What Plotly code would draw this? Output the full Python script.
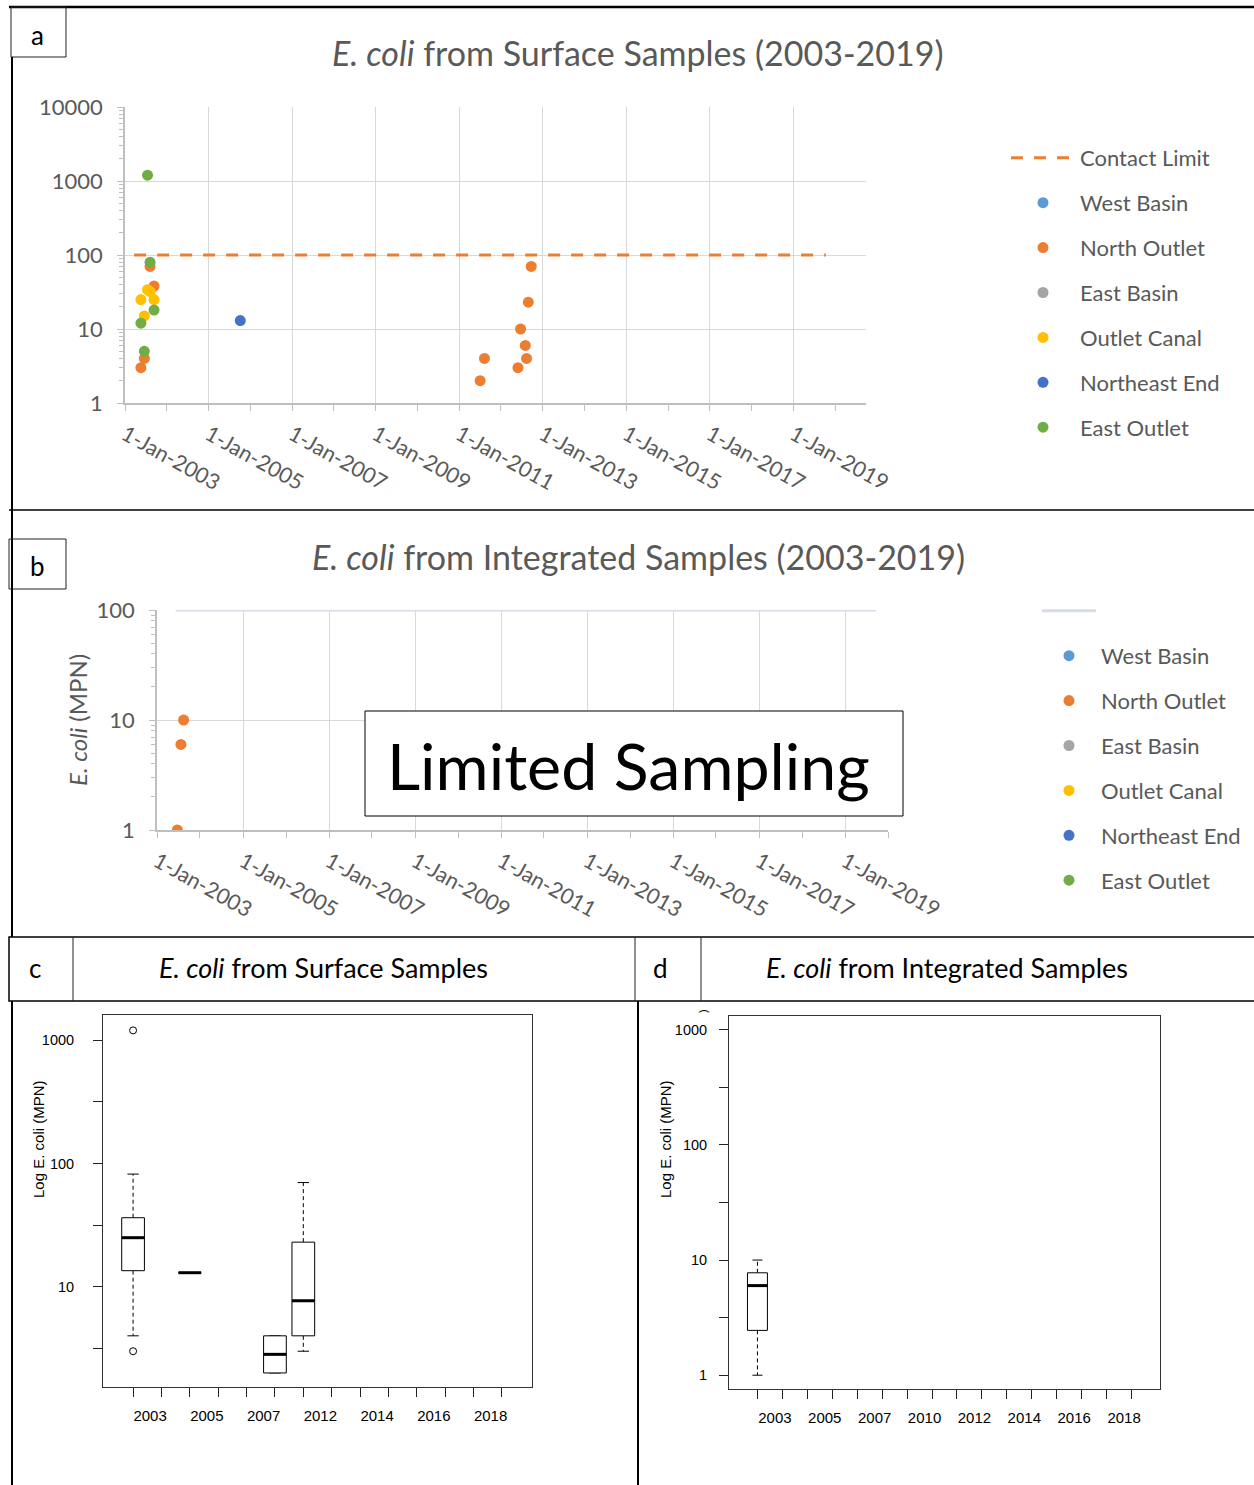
import numpy as np
import plotly.graph_objects as go

W, H = 1254, 1485

# ---------------- data ----------------
site_names = ['West Basin', 'North Outlet', 'East Basin', 'Outlet Canal', 'Northeast End', 'East Outlet']
site_colors = ['#5B9BD5', '#ED7D31', '#A5A5A5', '#FFC000', '#4472C4', '#70AD47']

contact_limit_value = 100
contact_limit_dates_a = ['2003-03-22', '2019-10-12']
contact_limit_dates_b = ['2003-06-08', '2019-09-24']

# Panel a: surface samples (sample date, E. coli MPN)
west_basin_a_dates, west_basin_a_vals = [], []
north_outlet_a_dates = ['2003-05-20', '2003-06-19', '2003-08-08', '2003-09-12', '2011-07-03', '2011-08-10',
                        '2012-05-29', '2012-06-21', '2012-08-01', '2012-08-12', '2012-08-27', '2012-09-22']
north_outlet_a_vals = [3, 4, 70, 38, 2, 4, 3, 10, 6, 4, 23, 70]
east_basin_a_dates, east_basin_a_vals = [], []
outlet_canal_a_dates = ['2003-05-20', '2003-06-19', '2003-07-17', '2003-08-08', '2003-09-12']
outlet_canal_a_vals = [25, 15, 34, 32, 25]
northeast_end_a_dates = ['2005-10-05']
northeast_end_a_vals = [13]
east_outlet_a_dates = ['2003-05-20', '2003-06-19', '2003-07-17', '2003-08-08', '2003-09-12']
east_outlet_a_vals = [12, 5, 1200, 80, 18]

# Panel b: integrated samples
west_basin_b_dates, west_basin_b_vals = [], []
north_outlet_b_dates = ['2003-06-23', '2003-07-23', '2003-08-15']
north_outlet_b_vals = [1, 6, 10]
east_basin_b_dates, east_basin_b_vals = [], []
outlet_canal_b_dates, outlet_canal_b_vals = [], []
northeast_end_b_dates, northeast_end_b_vals = [], []
east_outlet_b_dates, east_outlet_b_vals = [], []

# Panel c: boxplot statistics (surface)
c_years = [2003, 2004, 2005, 2006, 2007, 2011, 2012, 2013, 2014, 2015, 2016, 2017, 2018, 2019]
c_tick_labels = ['2003', '2005', '2007', '2012', '2014', '2016', '2018']
c_box_years = [2003, 2005, 2011, 2012]
c_lower = [4.0, 13, 2.0, 3.0]
c_q1 = [13.5, 13, 2.0, 4.0]
c_median = [25, 13, 2.83, 7.7]
c_q3 = [36.3, 13, 4.0, 23]
c_upper = [82, 13, 4.0, 70]
c_out_years = [2003, 2003]
c_out_vals = [1200, 3]

# Panel d: boxplot statistics (integrated)
d_years = [2003, 2004, 2005, 2006, 2007, 2009, 2010, 2011, 2012, 2013, 2014, 2015, 2016, 2017, 2018, 2019]
d_tick_labels = ['2003', '2005', '2007', '2010', '2012', '2014', '2016', '2018']
d_box_years = [2003]
d_lower = [1]
d_q1 = [2.45]
d_median = [6]
d_q3 = [7.75]
d_upper = [10]
d_out_years, d_out_vals = [], []

# ---------------- helpers ----------------
def px(x):
    return x / W


def py(y):
    return 1 - y / H


GRAY = '#595959'
XL = 'Lato'
RF = 'Liberation Sans'
MS = 11

fig = go.Figure()

# ---------- panel a ----------
fig.add_trace(go.Scatter(x=contact_limit_dates_a, y=[contact_limit_value] * 2, mode='lines',
                         name='Contact Limit', legend='legend', legendgroup='a0',
                         line=dict(color='#ED7D31', width=3, dash='12px,11px'),
                         xaxis='x', yaxis='y'))
a_sets = [(west_basin_a_dates, west_basin_a_vals), (north_outlet_a_dates, north_outlet_a_vals),
          (east_basin_a_dates, east_basin_a_vals), (outlet_canal_a_dates, outlet_canal_a_vals),
          (northeast_end_a_dates, northeast_end_a_vals), (east_outlet_a_dates, east_outlet_a_vals)]
for i, (nm, col, (dx, vy)) in enumerate(zip(site_names, site_colors, a_sets)):
    fig.add_trace(go.Scatter(x=dx if dx else [None], y=vy if vy else [None], mode='markers', name=nm,
                             legend='legend', legendgroup='a%d' % (i + 1),
                             marker=dict(color=col, size=MS), xaxis='x', yaxis='y'))

# ---------- panel b ----------
fig.add_trace(go.Scatter(x=contact_limit_dates_b, y=[contact_limit_value] * 2, mode='lines',
                         name='', legend='legend2', legendgroup='b0',
                         line=dict(color='#D6DCE5', width=3), xaxis='x2', yaxis='y2'))
b_sets = [(west_basin_b_dates, west_basin_b_vals), (north_outlet_b_dates, north_outlet_b_vals),
          (east_basin_b_dates, east_basin_b_vals), (outlet_canal_b_dates, outlet_canal_b_vals),
          (northeast_end_b_dates, northeast_end_b_vals), (east_outlet_b_dates, east_outlet_b_vals)]
for i, (nm, col, (dx, vy)) in enumerate(zip(site_names, site_colors, b_sets)):
    fig.add_trace(go.Scatter(x=dx if dx else [None], y=vy if vy else [None], mode='markers', name=nm,
                             legend='legend2', legendgroup='b%d' % (i + 1),
                             marker=dict(color=col, size=MS), xaxis='x2', yaxis='y2'))


# ---------- boxplots (c, d) ----------
def add_boxes(years_all, box_years, lo, q1, med, q3, hi, out_years, out_vals, xa, ya):
    pos = [years_all.index(y) + 1 for y in box_years]
    hw, cw = 0.4, 0.2
    bx, by, mx, my, wx, wy, sx, sy = [], [], [], [], [], [], [], []
    for p, l, a, m, b, h in zip(pos, lo, q1, med, q3, hi):
        bx += [p - hw, p + hw, p + hw, p - hw, p - hw, None]
        by += [a, a, b, b, a, None]
        mx += [p - hw, p + hw, None]
        my += [m, m, None]
        wx += [p, p, None, p, p, None]
        wy += [b, h, None, a, l, None]
        sx += [p - cw, p + cw, None, p - cw, p + cw, None]
        sy += [h, h, None, l, l, None]
    common = dict(xaxis=xa, yaxis=ya, showlegend=False, hoverinfo='skip')
    fig.add_trace(go.Scatter(x=wx, y=wy, mode='lines', line=dict(color='black', width=1, dash='4px,3px'), **common))
    fig.add_trace(go.Scatter(x=sx, y=sy, mode='lines', line=dict(color='black', width=1), **common))
    fig.add_trace(go.Scatter(x=bx, y=by, mode='lines', fill='toself', fillcolor='white',
                             line=dict(color='black', width=1), **common))
    fig.add_trace(go.Scatter(x=mx, y=my, mode='lines', line=dict(color='black', width=3), **common))
    if out_years:
        fig.add_trace(go.Scatter(x=[years_all.index(y) + 1 for y in out_years], y=out_vals, mode='markers',
                                 marker=dict(symbol='circle-open', size=7, color='black', line=dict(width=1)),
                                 **common))


add_boxes(c_years, c_box_years, c_lower, c_q1, c_median, c_q3, c_upper, c_out_years, c_out_vals, 'x3', 'y3')
add_boxes(d_years, d_box_years, d_lower, d_q1, d_median, d_q3, d_upper, d_out_years, d_out_vals, 'x4', 'y4')
# label-only axes for the year labels (need a trace to be drawn)
fig.add_trace(go.Scatter(x=[None], y=[None], xaxis='x5', yaxis='y3', showlegend=False, hoverinfo='skip'))
fig.add_trace(go.Scatter(x=[None], y=[None], xaxis='x6', yaxis='y4', showlegend=False, hoverinfo='skip'))

# ---------------- axes ----------------
minor_a = [k * 10 ** d for d in range(0, 4) for k in range(2, 10)]
minor_b = [k * 10 ** d for d in range(0, 2) for k in range(2, 10)]


def excel_x(domain, anchor, rng):
    return dict(domain=domain, anchor=anchor, type='date', range=rng, tick0='2003-01-01', dtick='M24',
                tickformat='%-d-%b-%Y', tickangle=29, showgrid=True, gridcolor='#D9D9D9', gridwidth=1,
                showline=True, linecolor='#BFBFBF', linewidth=1.5, ticks='outside', ticklen=6,
                tickcolor='#BFBFBF', tickwidth=1,
                tickfont=dict(family=XL, size=21.5, color=GRAY),
                minor=dict(dtick='M12', tick0='2003-01-01', ticks='outside', ticklen=6,
                           tickcolor='#BFBFBF', showgrid=False),
                zeroline=False, automargin=False, ticklabelstandoff=3)


def excel_y(domain, anchor, rng, tv, mv):
    return dict(domain=domain, anchor=anchor, type='log', range=rng, tickvals=tv, tickformat='d',
                showgrid=True, gridcolor='#D9D9D9', gridwidth=1, showline=True, linecolor='#BFBFBF',
                linewidth=1.5, ticks='outside', ticklen=6, tickcolor='#BFBFBF',
                tickfont=dict(family=XL, size=22, color=GRAY),
                minor=dict(tickvals=mv, ticks='outside', ticklen=4, tickcolor='#BFBFBF', showgrid=False),
                zeroline=False, automargin=False, ticklabelstandoff=10)


def r_x(domain, anchor, n, rng):
    return dict(domain=domain, anchor=anchor, range=rng, tickvals=list(range(1, n + 1)),
                showticklabels=False, ticks='outside', ticklen=9, tickcolor='#222', showgrid=False,
                showline=True, mirror=True, linecolor='#333', linewidth=1, zeroline=False, automargin=False)


def r_y(domain, anchor, rng, tv, tt, standoff):
    return dict(domain=domain, anchor=anchor, type='log', range=rng, tickvals=tv, ticktext=tt,
                ticks='outside', ticklen=9, tickcolor='#222', showgrid=False, showline=True, mirror=True,
                linecolor='#333', linewidth=1, zeroline=False, automargin=False,
                tickfont=dict(family=RF, size=14.5, color='black'), ticklabelstandoff=standoff)


def r_lab(overlay, anchor, years_all, labels, off, rng):
    return dict(overlaying=overlay, anchor=anchor, range=rng,
                tickvals=[years_all.index(int(s)) + 1 + off for s in labels], ticktext=labels,
                ticks='', showline=False, showgrid=False, zeroline=False, automargin=False,
                tickfont=dict(family=RF, size=15, color='black'), ticklabelstandoff=18)


c_rng = [-0.06, len(c_years) + 1.06]
d_rng = [-0.14, len(d_years) + 1.14]
half = [10 ** (k / 2) for k in range(0, 7)]
half_txt = ['1' if k == 0 else ('' if k % 2 else str(int(round(10 ** (k / 2))))) for k in range(0, 7)]
c_tv, c_tt = half[1:], half_txt[1:]

fig.update_layout(
    width=W, height=H, autosize=False, margin=dict(l=0, r=0, t=0, b=0),
    template='none', paper_bgcolor='white', plot_bgcolor='rgba(0,0,0,0)', showlegend=True,
    xaxis=excel_x([px(125), px(866)], 'y', ['2003-01-01', '2020-09-27']),
    yaxis=excel_y([py(403), py(107)], 'x', [0, 4], [1, 10, 100, 1000, 10000], minor_a),
    xaxis2=excel_x([px(157), px(888)], 'y2', ['2003-01-01', '2020-01-01']),
    yaxis2=excel_y([py(830), py(610)], 'x2', [0, 2], [1, 10, 100], minor_b),
    xaxis3=r_x([px(103), px(532)], 'y3', len(c_years), c_rng),
    yaxis3=r_y([py(1387), py(1015)], 'x3', [0.187, 3.204], c_tv, c_tt, 16),
    xaxis5=r_lab('x3', 'y3', c_years, c_tick_labels, 0.6, c_rng),
    xaxis4=r_x([px(729), px(1160)], 'y4', len(d_years), d_rng),
    yaxis4=r_y([py(1389), py(1016)], 'x4', [-0.12, 3.12], half, half_txt, 9),
    xaxis6=r_lab('x4', 'y4', d_years, d_tick_labels, 0.7, d_rng),
    legend=dict(x=px(1006), y=py(157 - 20), xanchor='left', yanchor='top', itemwidth=64,
                tracegroupgap=13.3, font=dict(family=XL, size=22, color=GRAY), bgcolor='rgba(0,0,0,0)',
                traceorder='grouped'),
    legend2=dict(x=px(1037), y=py(611 - 21), xanchor='left', yanchor='top', itemwidth=54,
                 tracegroupgap=13.3, font=dict(family=XL, size=22, color=GRAY), bgcolor='rgba(0,0,0,0)',
                 traceorder='grouped'),
)

# ---------------- frames ----------------
shapes = []


def seg(x0, y0, x1, y1, w=1.5, c='black'):
    shapes.append(dict(type='line', xref='paper', yref='paper', x0=px(x0), y0=py(y0), x1=px(x1), y1=py(y1),
                       line=dict(color=c, width=w)))


def box(x0, y0, x1, y1, w=1, c='#222', fill='rgba(0,0,0,0)'):
    shapes.append(dict(type='rect', xref='paper', yref='paper', x0=px(x0), y0=py(y0), x1=px(x1), y1=py(y1),
                       line=dict(color=c, width=w), fillcolor=fill, layer='above'))


seg(9, 7, 1254, 7, 2.5)
box(11, 7, 66, 57)
seg(12, 57, 12, 937, 2)
seg(9, 510, 1254, 510, 1.5)
box(9, 539, 66, 589)
box(9, 937, 1256, 1001, 1.5, 'black')
seg(73, 937, 73, 1001, 1, '#222')
seg(635, 937, 635, 1001, 1, '#222')
seg(701, 937, 701, 1001, 1, '#222')
seg(12, 1001, 12, 1485, 2)
seg(638, 1001, 638, 1485, 2)
box(365, 711, 903, 816, 1, 'black', 'white')
fig.update_layout(shapes=shapes)

# ---------------- text ----------------
ann = []


def txt(x, y, s, size, color='black', family=XL, angle=0, **kw):
    ann.append(dict(xref='paper', yref='paper', x=px(x), y=py(y), text=s, showarrow=False,
                    xanchor='center', yanchor='middle', textangle=angle,
                    font=dict(family=family, size=size, color=color), **kw))


txt(37, 35, 'a', 26)
txt(37, 566, 'b', 26)
txt(35, 968, 'c', 26)
txt(660, 968, 'd', 26)
txt(638, 52, '<i>E. coli</i> from Surface Samples (2003-2019)', 34, GRAY)
txt(638, 556, '<i>E. coli</i> from Integrated Samples (2003-2019)', 34, GRAY)
txt(323, 967, '<i>E. coli</i> from Surface Samples', 27)
txt(947, 967, '<i>E. coli</i> from Integrated Samples', 27)
txt(77, 720, '<i>E. coli</i> (MPN)', 24, GRAY, angle=-90)
txt(38, 1139, 'Log E. coli (MPN)', 15, 'black', RF, angle=-90)
txt(665, 1139, 'Log E. coli (MPN)', 15, 'black', RF, angle=-90)
txt(703, 1011, ')', 11, 'black', RF, angle=-90)
txt(628, 765, 'Limited Sampling', 64.5, 'black', XL)
fig.update_layout(annotations=ann)

fig.write_html('out.html')
